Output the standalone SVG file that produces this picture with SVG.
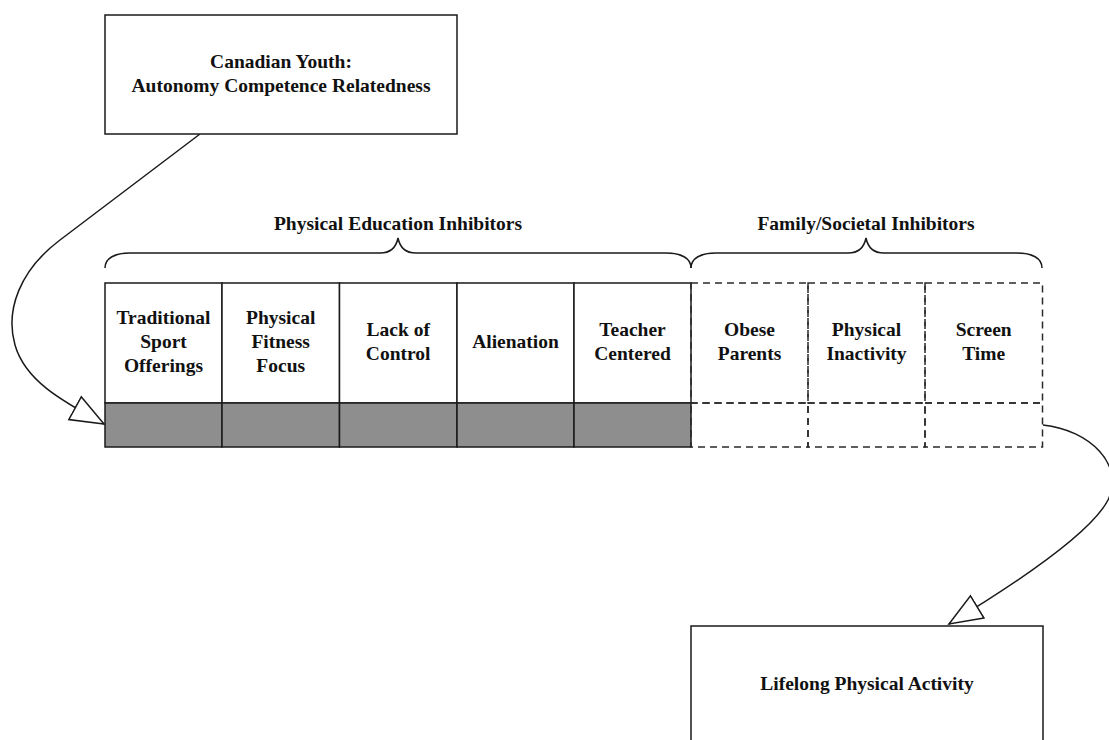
<svg xmlns="http://www.w3.org/2000/svg" width="1109" height="740" viewBox="0 0 1109 740">
<style>
text{font-family:"Liberation Serif","Times New Roman",serif;font-weight:bold;font-size:19.5px;fill:#111;text-anchor:middle}
.box{fill:#fff;stroke:#1a1a1a;stroke-width:1.5}
.gray{fill:#8e8e8e;stroke:#1a1a1a;stroke-width:1.5}
.dash{fill:none;stroke:#2a2a2a;stroke-width:1.5;stroke-dasharray:7 5}
.brace{fill:none;stroke:#1a1a1a;stroke-width:1.5}
.conn{fill:none;stroke:#1a1a1a;stroke-width:1.5}
</style>
<defs>
<marker id="open" markerUnits="userSpaceOnUse" markerWidth="36" markerHeight="30" refX="33" refY="13" orient="auto" viewBox="-1 -1 36 28">
<path d="M0,0 L33,13 L0,26 Z" fill="#fff" stroke="#1a1a1a" stroke-width="1.5" stroke-linejoin="miter"/>
</marker>
</defs>
<g id="connectors">
<path class="conn" d="M200,134 L60,240 C20,270 5,310 15,345 C25,380 60,400 104,424" marker-end="url(#open)"/>
<path class="conn" d="M1043,425 C1090,430 1125,465 1108,500 C1090,535 1010,587 949,624" marker-end="url(#open)"/>
</g>
<g id="canadian-youth">
<rect class="box" x="105" y="15" width="352" height="119"/>
<text x="281" y="68">Canadian Youth:</text>
<text x="281" y="92">Autonomy Competence Relatedness</text>
</g>
<g id="pe-inhibitors">
<path class="brace" d="M105,268 C105,258 115,253 130,253 L380,253 C390,253 396,248 398,238 C400,248 406,253 416,253 L666,253 C681,253 691,258 691,268"/>
<text x="398" y="230">Physical Education Inhibitors</text>
</g>
<g id="family-inhibitors">
<path class="brace" d="M691,268 C691,258 701,253 716,253 L848,253 C858,253 864,248 866,238 C868,248 874,253 884,253 L1017,253 C1032,253 1042,258 1042,268"/>
<text x="866" y="230">Family/Societal Inhibitors</text>
</g>
<g id="traditional-sport">
<rect class="box" x="105" y="283" width="117" height="120"/>
<rect class="gray" x="105" y="403" width="117" height="44"/>
<text x="163.5" y="324">Traditional</text>
<text x="163.5" y="348">Sport</text>
<text x="163.5" y="372">Offerings</text>
</g>
<g id="physical-fitness">
<rect class="box" x="222" y="283" width="117.5" height="120"/>
<rect class="gray" x="222" y="403" width="117.5" height="44"/>
<text x="280.7" y="324">Physical</text>
<text x="280.7" y="348">Fitness</text>
<text x="280.7" y="372">Focus</text>
</g>
<g id="lack-of-control">
<rect class="box" x="339.5" y="283" width="117.5" height="120"/>
<rect class="gray" x="339.5" y="403" width="117.5" height="44"/>
<text x="398.2" y="336">Lack of</text>
<text x="398.2" y="360">Control</text>
</g>
<g id="alienation">
<rect class="box" x="457" y="283" width="117" height="120"/>
<rect class="gray" x="457" y="403" width="117" height="44"/>
<text x="515.5" y="348">Alienation</text>
</g>
<g id="teacher-centered">
<rect class="box" x="574" y="283" width="117" height="120"/>
<rect class="gray" x="574" y="403" width="117" height="44"/>
<text x="632.5" y="336">Teacher</text>
<text x="632.5" y="360">Centered</text>
</g>
<g id="obese-parents">
<rect class="dash" x="691" y="283" width="117" height="120"/>
<rect class="dash" x="691" y="403" width="117" height="44"/>
<text x="749.5" y="336">Obese</text>
<text x="749.5" y="360">Parents</text>
</g>
<g id="physical-inactivity">
<rect class="dash" x="808" y="283" width="117" height="120"/>
<rect class="dash" x="808" y="403" width="117" height="44"/>
<text x="866.5" y="336">Physical</text>
<text x="866.5" y="360">Inactivity</text>
</g>
<g id="screen-time">
<rect class="dash" x="925" y="283" width="117.5" height="120"/>
<rect class="dash" x="925" y="403" width="117.5" height="44"/>
<text x="983.7" y="336">Screen</text>
<text x="983.7" y="360">Time</text>
</g>
<g id="lifelong-activity">
<rect class="box" x="691" y="626" width="352" height="130"/>
<text x="867" y="690">Lifelong Physical Activity</text>
</g>
</svg>
